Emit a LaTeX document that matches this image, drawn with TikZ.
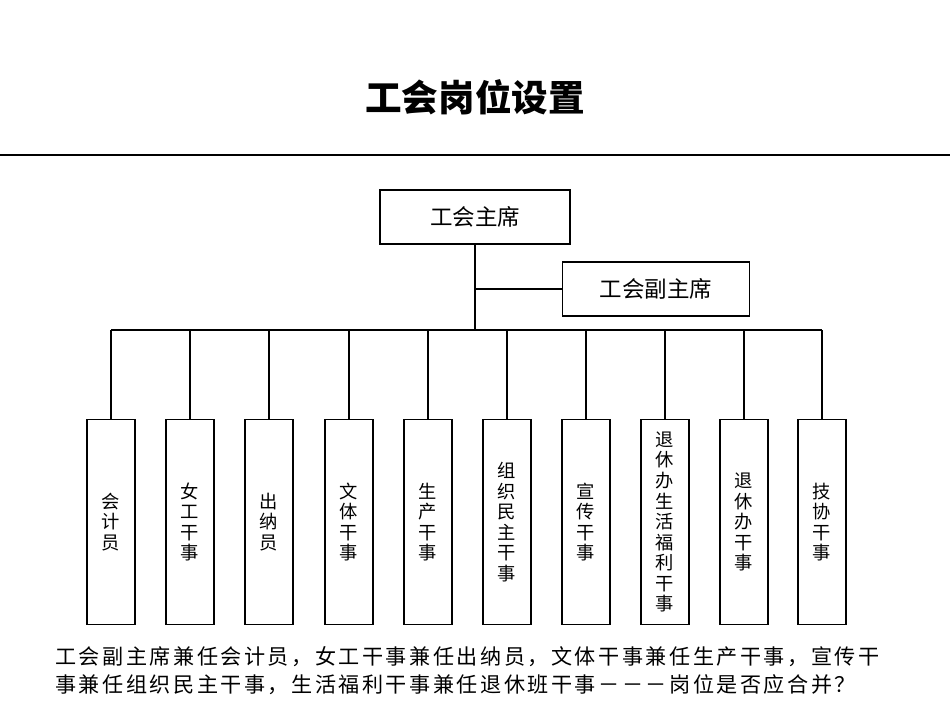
\documentclass[tikz,border=0pt]{standalone}
\usepackage{fontspec}
\setmainfont{Noto Sans CJK SC}
\usepackage{tikz}
\usetikzlibrary{positioning}

\tikzset{
  postbox/.style={draw, thick, minimum width=1.2cm, minimum height=5.125cm, inner sep=1pt, align=center, font=\fontsize{13}{14.6}\selectfont},
  headbox/.style={draw, thick, minimum width=4.75cm, minimum height=1.35cm, font=\fontsize{16}{18}\selectfont},
}

\begin{document}
\begin{tikzpicture}[x=0.025cm, y=-0.025cm]
\useasboundingbox (0,0) rectangle (950,713);

% Title
\node (title) at (475,97) {\fontsize{26}{30}\selectfont\bfseries 工会岗位设置};
\draw[line width=1.6pt] (0,155) -- (950,155);

% Heads
\node (chair) [headbox] at (475,217) {工会主席};
\node (vice) [headbox, minimum width=4.675cm] at (656,289) {工会副主席};
\coordinate (bus) at (475,330);
\coordinate (joint) at (475,289);
\draw[line width=1.2pt] (chair.south) -- (bus);
\draw[thick] (joint) -- (vice.west);

% Posts
\foreach \i/\x/\t in {1/111/会\\计\\员, 2/190/女\\工\\干\\事, 3/269/出\\纳\\员,
  4/349/文\\体\\干\\事, 5/428/生\\产\\干\\事, 6/507/组\\织\\民\\主\\干\\事,
  7/586/宣\\传\\干\\事, 8/665/退\\休\\办\\生\\活\\福\\利\\干\\事,
  9/744/退\\休\\办\\干\\事, 10/822/技\\协\\干\\事} {
  \node (p\i) [postbox] at (\x,522) {\t};
  \coordinate (t\i) at (\x,330);
  \draw[thick] (t\i) -- (p\i.north);
}
\draw[thick] (t1) -- (t10);

% Note
\node (note) [anchor=north west, align=left, inner sep=0pt,
  font=\fontsize{15}{20}\selectfont\addfontfeatures{LetterSpace=12}] at (55,646)
  {工会副主席兼任会计员，女工干事兼任出纳员，文体干事兼任生产干事，宣传干\\
   事兼任组织民主干事，生活福利干事兼任退休班干事－－－岗位是否应合并？};
\end{tikzpicture}
\end{document}
